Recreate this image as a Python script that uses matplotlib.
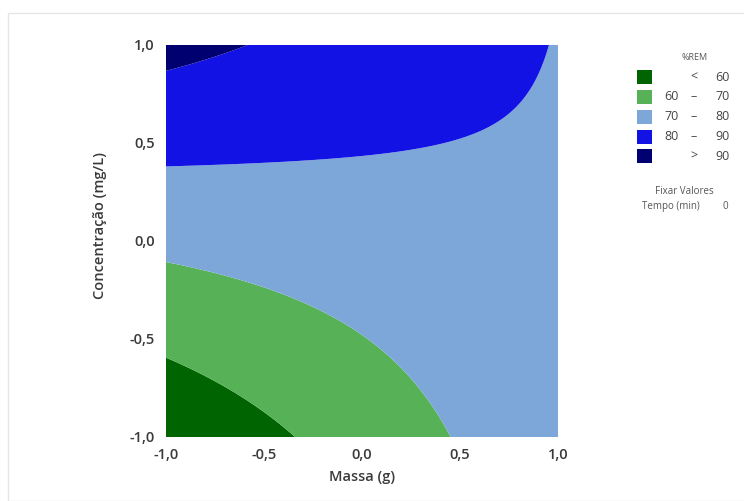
import numpy as np
import matplotlib
matplotlib.use("Agg")
from matplotlib import pyplot as plt
from matplotlib.patches import Rectangle

# fitted response surface for %REM (coded units), Tempo held at 0
b0 = 75.25      # intercept
b_massa = 3.05
b_conc = 10.95
b_massa2 = 0.0
b_conc2 = 0.0
b_massa_conc = -9.55

levels = [0, 60, 70, 80, 90, 200]
colors = ["#006400", "#57B257", "#7EA7D9", "#1212E4", "#000070"]
legend_labels = [("", "<", "60"), ("60", "–", "70"), ("70", "–", "80"),
                 ("80", "–", "90"), ("", ">", "90")]
ticks = [-1.0, -0.5, 0.0, 0.5, 1.0]

plt.rcParams['font.family'] = ['Open Sans', 'DejaVu Sans']
W, H = 744, 501
fig = plt.figure(figsize=(W / 100, H / 100), dpi=100)

# light frame around graph region
fig.patches.append(Rectangle((8 / W, 0), 1, 1 - 13 / H, transform=fig.transFigure,
                             fill=False, edgecolor="#e6e6e6", lw=1))

ax = fig.add_axes([166 / W, 1 - 437 / H, (558 - 166) / W, (437 - 45) / H])
x = np.linspace(-1, 1, 401)
y = np.linspace(-1, 1, 401)
X, Y = np.meshgrid(x, y)
Z = (b0 + b_massa * X + b_conc * Y + b_massa2 * X ** 2 + b_conc2 * Y ** 2
     + b_massa_conc * X * Y)
ax.contourf(X, Y, Z, levels=levels, colors=colors, antialiased=True)
ax.set_xlim(-1, 1)
ax.set_ylim(-1, 1)
for s in ax.spines.values():
    s.set_visible(False)

fmt = lambda v: f"{v:.1f}".replace(".", ",")
ax.set_xticks(ticks)
ax.set_xticklabels([fmt(t) for t in ticks])
ax.set_yticks(ticks)
ax.set_yticklabels([fmt(t) for t in ticks])
ax.tick_params(length=0, labelsize=10.5, colors="#3a3a3a", pad=8)
for lab in ax.get_xticklabels() + ax.get_yticklabels():
    lab.set_fontweight("semibold")

ax.set_xlabel("Massa (g)", fontsize=10.5, color="#3a3a3a", fontweight="semibold", labelpad=6)
fig.text(100 / W, 1 - 226 / H, "Concentração (mg/L)", rotation=90, ha="center", va="center",
         fontsize=10.5, color="#3a3a3a", fontweight="semibold")

# legend
fig.text(695 / W, 1 - 58 / H, "%REM", ha="center", va="center", fontsize=6.5, color="#555555")
rows_y = [77, 97, 117, 137, 156]
for (lo, sym, hi), c, ry in zip(legend_labels, colors, rows_y):
    fig.patches.append(Rectangle((637 / W, 1 - (ry + 7) / H), 15 / W, 14 / H,
                                 transform=fig.transFigure, facecolor=c, edgecolor="none"))
    fig.text(679 / W, 1 - ry / H, lo, ha="right", va="center", fontsize=9, color="#444444")
    fig.text(694 / W, 1 - ry / H, sym, ha="center", va="center", fontsize=9, color="#444444")
    fig.text(730 / W, 1 - ry / H, hi, ha="right", va="center", fontsize=9, color="#444444")

fig.text(684 / W, 1 - 192 / H, "Fixar Valores", ha="center", va="center", fontsize=7, color="#555555")
fig.text(642 / W, 1 - 209 / H, "Tempo (min)", ha="left", va="baseline", fontsize=7, color="#555555")
fig.text(728 / W, 1 - 209 / H, "0", ha="right", va="baseline", fontsize=7, color="#555555")

fig.savefig("out.png", dpi=100)
